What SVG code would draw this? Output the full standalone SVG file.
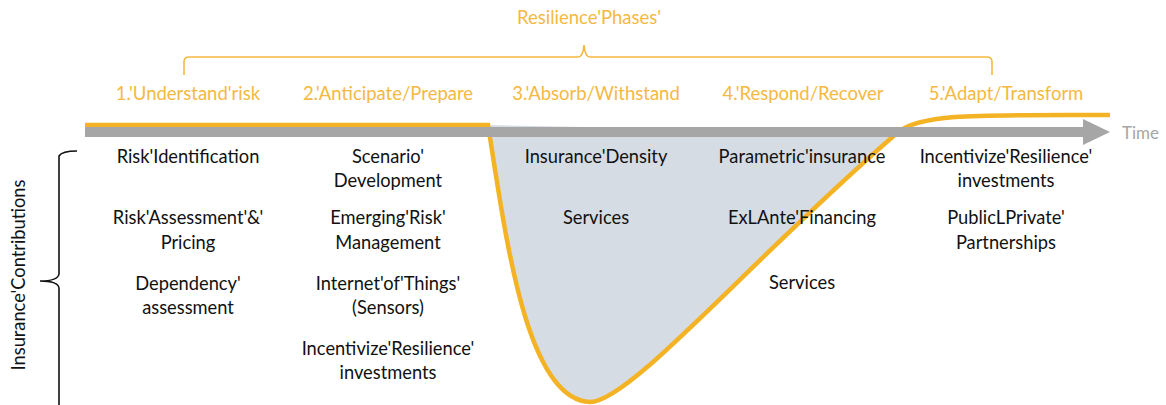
<svg xmlns="http://www.w3.org/2000/svg" width="1166" height="405" viewBox="0 0 1166 405">
<style>
.ph{font-family:Lato,"Open Sans",sans-serif;font-size:18.5px;fill:#F5B942;text-anchor:middle}
.t{font-family:Lato,"Open Sans",sans-serif;font-size:18.3px;fill:#111;text-anchor:middle}
.brace{fill:none;stroke-width:1.6}
</style>
<rect width="1166" height="405" fill="#fff"/>
<g id="title">
<text class="ph" x="589" y="24">Resilience'Phases'</text>
<path class="brace" stroke="#F5B942" d="M184,75 V62 Q184,57 189,57 H578 Q583,57 584,45 Q585,57 590,57 H987 Q992,57 992,62 V75"/>
</g>
<g id="phases">
<text class="ph" x="188" y="100">1.'Understand'risk</text>
<text class="ph" x="388" y="100">2.'Anticipate/Prepare</text>
<text class="ph" x="596" y="100">3.'Absorb/Withstand</text>
<text class="ph" x="803" y="100">4.'Respond/Recover</text>
<text class="ph" x="1006" y="100">5.'Adapt/Transform</text>
</g>
<g id="curve">
<path d="M488,125 C505,230 525,400 590,402 C630,402 750,260 897,133 Z" fill="#D6DCE4"/>
<path d="M85,125 H488 C505,230 525,400 590,402 C630,402 750,260 897,133 C920,113 980,115 1110,115" fill="none" stroke="#F4B324" stroke-width="4.5"/>
</g>
<g id="connectors">
<rect x="85" y="127" width="1000" height="10" fill="#A6A6A6"/>
<polygon points="1083,119 1110,132 1083,145" fill="#A6A6A6"/>
</g>
<g id="time"><text x="1122" y="139" style="font-family:Lato,'Open Sans',sans-serif;font-size:17px;fill:#A6A6A6">Time</text></g>
<g id="contrib-label">
<text class="t" transform="translate(25,275) rotate(-90)" x="0" y="0">Insurance'Contributions</text>
<path class="brace" stroke="#111" d="M77,151 Q62,151 59,156 V274 Q58,281 40,281 Q58,281 59,288 V405"/>
</g>
<g id="col1">
<text class="t" x="188" y="163">Risk'Identification</text>
<text class="t" x="188" y="224">Risk'Assessment'&amp;'</text>
<text class="t" x="188" y="249">Pricing</text>
<text class="t" x="188" y="290">Dependency'</text>
<text class="t" x="188" y="314">assessment</text>
</g>
<g id="col2">
<text class="t" x="388" y="163">Scenario'</text>
<text class="t" x="388" y="187">Development</text>
<text class="t" x="388" y="224">Emerging'Risk'</text>
<text class="t" x="388" y="249">Management</text>
<text class="t" x="388" y="290">Internet'of'Things'</text>
<text class="t" x="388" y="314">(Sensors)</text>
<text class="t" x="388" y="355">Incentivize'Resilience'</text>
<text class="t" x="388" y="379">investments</text>
</g>
<g id="col3">
<text class="t" x="596" y="163">Insurance'Density</text>
<text class="t" x="596" y="224">Services</text>
</g>
<g id="col4">
<text class="t" x="802" y="163">Parametric'insurance</text>
<text class="t" x="802" y="224">ExLAnte'Financing</text>
<text class="t" x="802" y="289">Services</text>
</g>
<g id="col5">
<text class="t" x="1006" y="163">Incentivize'Resilience'</text>
<text class="t" x="1006" y="187">investments</text>
<text class="t" x="1006" y="224">PublicLPrivate'</text>
<text class="t" x="1006" y="249">Partnerships</text>
</g>
</svg>
